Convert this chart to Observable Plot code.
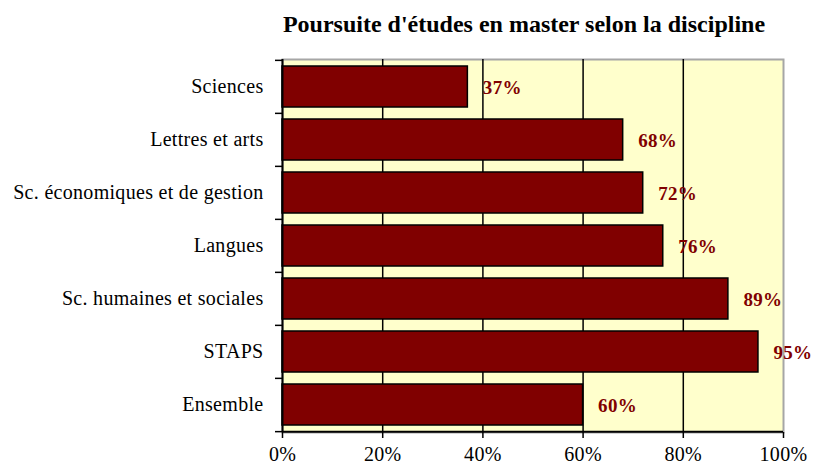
<!DOCTYPE html>
<html>
<head>
<meta charset="utf-8">
<script src="https://cdn.jsdelivr.net/npm/d3@7"></script>
<script src="https://cdn.jsdelivr.net/npm/@observablehq/plot@0.6"></script>
<style>
  body { margin: 0; background: #fff; }
  #title { height: 40px; box-sizing: border-box; padding-top: 12px; width: 814px;
    font-family: "Liberation Serif", serif; font-weight: bold; font-size: 24px; line-height: 24px;
    text-align: center; padding-left: 234px; color: #000; white-space: nowrap; }
</style>
</head>
<body>
<div id="title">Poursuite d'études en master selon la discipline</div>
<div id="chart"></div>
<script>
const categories = ["Sciences", "Lettres et arts", "Sc. économiques et de gestion", "Langues", "Sc. humaines et sociales", "STAPS", "Ensemble"];
const values = [37, 68, 72, 76, 89, 95, 60];
const xTicks = [0, 20, 40, 60, 80, 100];
const gridValues = [20, 40, 60, 80];

const data = categories.map((c, i) => ({cat: c, v: values[i]}));

const W = 814, H = 426, mT = 19, mB = 34, mL = 282, mR = 31;
const step = (H - mT - mB) / categories.length;
const dark = "#800000";

const chart = Plot.plot({
  width: W, height: H,
  marginTop: mT, marginBottom: mB, marginLeft: mL, marginRight: mR,
  style: {fontFamily: "Liberation Serif, serif", fontSize: "20px", color: "#000", background: "#fff", letterSpacing: "0.3px", overflow: "visible"},
  x: {domain: [0, 100]},
  y: {domain: categories, paddingInner: 0.23, paddingOuter: 0.115},
  marks: [
    Plot.frame({fill: "#FFFFCC", stroke: "#a6a6a6", strokeWidth: 2}),
    Plot.ruleX(gridValues, {stroke: "#000", strokeWidth: 1.5}),
    Plot.barX(data, {x: "v", y: "cat", fill: dark, stroke: "#000", strokeWidth: 1.5}),
    Plot.ruleX([0], {stroke: "#000", strokeWidth: 2}),
    Plot.ruleY([categories[categories.length - 1]], {dy: step / 2, stroke: "#000", strokeWidth: 2}),
    Plot.text(data, {x: "v", y: "cat", text: d => d.v + "%", dx: 15, textAnchor: "start",
      fill: dark, fontWeight: "bold", fontSize: 19, dy: 1}),
    Plot.axisY({tickSize: 0, tickPadding: 19, label: null}),
    Plot.axisY({tickSize: 7, tickFormat: () => "", dy: -step / 2, label: null, strokeWidth: 1.5}),
    Plot.axisY([categories[categories.length - 1]], {tickSize: 7, tickFormat: () => "", dy: step / 2, label: null, strokeWidth: 1.5}),
    Plot.axisX({ticks: xTicks, tickSize: 6, tickPadding: 8, tickFormat: d => d + "%", label: null, strokeWidth: 1.5})
  ]
});
document.getElementById("chart").appendChild(chart);
</script>
</body>
</html>
